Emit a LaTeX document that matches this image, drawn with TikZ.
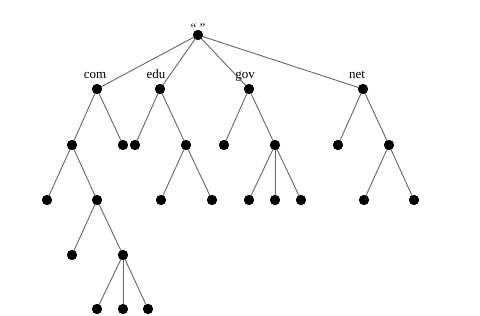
\documentclass[tikz,border=0pt]{standalone}
\usepackage{fontspec}
\setmainfont{Liberation Serif}
\begin{document}
\begin{tikzpicture}[x=1pt,y=-1pt,
  dot/.style={circle,fill=black,inner sep=0pt,minimum size=10pt},
  edge/.style={draw=black!60,line width=0.9pt},
  lab/.style={font=\fontsize{13}{15}\selectfont,inner sep=0pt,anchor=base}]
\useasboundingbox (0,0) rectangle (480,316);
% nodes
\node[dot] (r) at (198,35) {};
\node[dot] (com) at (97,89) {};
\node[dot] (edu) at (160,89) {};
\node[dot] (gov) at (249,89) {};
\node[dot] (net) at (363,89) {};
\node[dot] (c1) at (72,145) {};
\node[dot] (c2) at (123,145) {};
\node[dot] (e1) at (135,145) {};
\node[dot] (e2) at (186,145) {};
\node[dot] (g1) at (224,145) {};
\node[dot] (g2) at (275,145) {};
\node[dot] (n1) at (338,145) {};
\node[dot] (n2) at (389,145) {};
\node[dot] (c11) at (47,200) {};
\node[dot] (c12) at (97,200) {};
\node[dot] (e21) at (161,200) {};
\node[dot] (e22) at (212,200) {};
\node[dot] (g21) at (249,200) {};
\node[dot] (g22) at (275,200) {};
\node[dot] (g23) at (301,200) {};
\node[dot] (n21) at (364,200) {};
\node[dot] (n22) at (414,200) {};
\node[dot] (c121) at (72,255) {};
\node[dot] (c122) at (123,255) {};
\node[dot] (d1) at (97,309) {};
\node[dot] (d2) at (123,309) {};
\node[dot] (d3) at (148,309) {};
% labels
\node[lab] (lr) at (198,32) {“ ”};
\node[lab] (lcom) at (95,78) {com};
\node[lab] (ledu) at (156,78) {edu};
\node[lab] (lgov) at (245,78) {gov};
\node[lab] (lnet) at (357,78) {net};
% edges
\foreach \a/\b in {r/com,r/edu,r/gov,r/net,com/c1,com/c2,edu/e1,edu/e2,gov/g1,gov/g2,net/n1,net/n2,c1/c11,c1/c12,e2/e21,e2/e22,g2/g21,g2/g22,g2/g23,n2/n21,n2/n22,c12/c121,c12/c122,c122/d1,c122/d2,c122/d3}
  \draw[edge] (\a.center) -- (\b.center);
% redraw dots on top
\foreach \n in {r,com,edu,gov,net,c1,c2,e1,e2,g1,g2,n1,n2,c11,c12,e21,e22,g21,g22,g23,n21,n22,c121,c122,d1,d2,d3}
  \fill (\n.center) circle (5pt);
\end{tikzpicture}
\end{document}
